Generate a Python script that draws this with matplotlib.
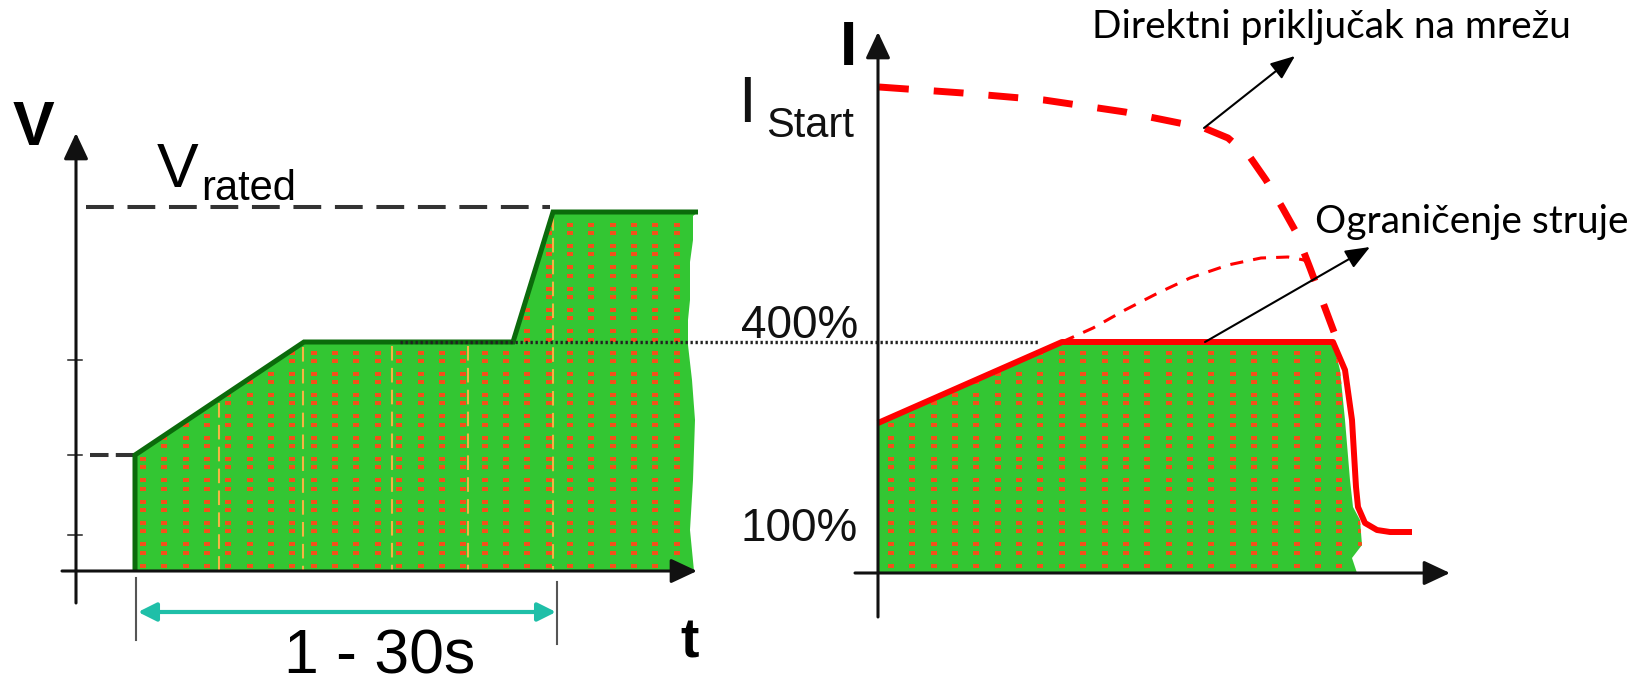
"""Soft starter diagram: voltage ramp (left) and current limit vs direct start (right)."""
import numpy as np
import matplotlib
matplotlib.use("Agg")
import matplotlib.pyplot as plt

plt.rcParams['font.family'] = ['Liberation Sans', 'DejaVu Sans']

# canvas is laid out in image pixels (x right, y down)
W, H = 1650, 687

# ---- left panel: V(t) ----
v_x = [135, 135, 304, 513, 553, 698]
v_y = [571, 455, 342, 342, 212, 212]
v_edge_x = [698, 693, 693, 690, 690, 688, 688, 692, 695, 693, 690, 694]
v_edge_y = [212, 216, 240, 262, 300, 320, 345, 380, 420, 480, 530, 571]
v_guides_x = [219, 303, 392, 468, 553]        # orange dashed verticals
v_rated_y, v_start_y = 207, 455
v_ticks_y = [360, 455, 535]
span_x = [136, 557]                          # "1 - 30s" interval
span_y = 612

# ---- right panel: I(t) ----
lim_x = [878, 1062, 1333, 1345, 1352, 1356, 1358, 1365, 1377, 1390, 1412]
lim_y = [423, 342, 342, 370, 420, 487, 507, 523, 530, 532, 532]
i_edge_x = [1333, 1340, 1345, 1350, 1353, 1360, 1362, 1352, 1357]
i_edge_y = [342, 370, 420, 480, 507, 520, 545, 558, 573]
dol_x = [879, 963, 1044, 1125, 1204, 1228, 1250, 1266, 1282, 1296, 1310, 1322, 1334]
dol_y = [87, 93, 100, 112, 128, 138, 157, 180, 207, 232, 268, 300, 332]
free_x = [1062, 1093, 1125, 1158, 1190, 1228, 1261, 1288, 1304, 1312]
free_y = [342, 328, 310, 293, 278, 265, 258, 257, 260, 267]
level400_y = 342
dotted_x = [400, 1038]

# axes (origin, tip)
ax_left_v = [(76, 603), (76, 133)]
ax_left_t = [(62, 571), (697, 571)]
ax_right_i = [(878, 617), (878, 32)]
ax_right_t = [(855, 573), (1450, 573)]

GREEN = "#33c633"
DKGREEN = "#0b6b0b"
DOTS = "#f4501a"
RED = "#ff0000"


def axis_arrow(ax, p0, p1):
    ax.annotate("", xy=p1, xytext=p0,
                arrowprops=dict(arrowstyle="-|>,head_length=1.6,head_width=0.75",
                                lw=2.2, color="#111111", shrinkA=0, shrinkB=0),
                zorder=6)


def dot_texture(ax, patch, x0, x1):
    xs = np.arange(x0, x1, 21.35)
    rows = np.arange(565.5, 150, -21.3)
    ys = np.concatenate([rows, rows + 8.3])
    gx, gy = np.meshgrid(xs, ys)
    rect = [(-2.5, -1.2), (2.5, -1.2), (2.5, 1.2), (-2.5, 1.2)]
    sc = ax.scatter(gx.ravel(), gy.ravel(), marker=rect, s=22, c=DOTS,
                    linewidths=0, zorder=3)
    sc.set_clip_path(patch)


fig = plt.figure(figsize=(W / 100, H / 100), dpi=100)
ax = fig.add_axes([0, 0, 1, 1])
ax.set_xlim(0, W)
ax.set_ylim(H, 0)
ax.axis("off")

# left fill + texture
lx = v_x + v_edge_x[1:] + [v_x[0]]
ly = v_y + v_edge_y[1:] + [v_y[0]]
lpatch = ax.fill(lx, ly, color=GREEN, lw=0, zorder=2)[0]
dot_texture(ax, lpatch, 143, 700)
for gx in v_guides_x:
    top = np.interp(gx, v_x[1:], v_y[1:])
    ax.plot([gx, gx], [top + 4, 571], color="#f5b342", lw=1.5,
            dashes=(7, 3.5), zorder=3)
ax.plot(v_x, v_y, color=DKGREEN, lw=3.6, solid_capstyle="butt",
        solid_joinstyle="miter", zorder=4)

# right fill + texture
rx = [lim_x[0]] + lim_x[:3] + i_edge_x[1:]
ry = [573] + lim_y[:3] + i_edge_y[1:]
rpatch = ax.fill(rx, ry, color=GREEN, lw=0, zorder=2)[0]
dot_texture(ax, rpatch, 891, 1400)

# dashed references on the left
ax.plot([86, 550], [v_rated_y] * 2, color="#333333", lw=2.9,
        dashes=(6.9, 3.4), zorder=3)
ax.plot([90, 134], [v_start_y] * 2, color="#333333", lw=2.9,
        dashes=(4.6, 1.8), zorder=3)
for ty in v_ticks_y:
    ax.plot([68, 82], [ty, ty], color="#222222", lw=1.1, zorder=6)

# dotted 400% line shared by both panels
ax.plot(dotted_x, [level400_y] * 2, color="#222222", lw=2.4,
        dashes=(0.7, 0.8), zorder=5)

# current curves
ax.plot(dol_x, dol_y, color=RED, lw=5, dashes=(4.3, 3.6), zorder=5)
ax.plot(free_x, free_y, color=RED, lw=2.2, dashes=(4.3, 3.3), zorder=5)
ax.plot(lim_x, lim_y, color=RED, lw=4.3, solid_capstyle="butt", zorder=5)

for p0, p1 in (ax_left_v, ax_left_t, ax_right_i, ax_right_t):
    axis_arrow(ax, p0, p1)

# time span marker
for sx, (y0, y1) in zip(span_x, [(578, 640), (582, 644)]):
    ax.plot([sx, sx], [y0, y1], color="#555555", lw=1.5, zorder=4)
ax.annotate("", xy=(span_x[1] - 1, span_y), xytext=(span_x[0] + 2, span_y),
            arrowprops=dict(arrowstyle="<|-|>,head_length=1.1,head_width=0.55",
                            lw=3, color="#1fbfa8", shrinkA=0, shrinkB=0))

# callout arrows
for (x0, y0), (x1, y1) in [((1204, 128), (1295, 56)), ((1205, 342), (1370, 247))]:
    ax.annotate("", xy=(x1, y1), xytext=(x0, y0),
                arrowprops=dict(arrowstyle="-|>,head_length=1.5,head_width=0.6",
                                lw=1.5, color="black", shrinkA=0, shrinkB=0),
                zorder=7)

# texts
ax.text(13, 145, "V", fontsize=45, fontweight="bold", va="baseline")
ax.text(849, 65, "I", fontsize=45, fontweight="bold", ha="center", va="baseline")
ax.text(690, 658, "t", fontsize=40, fontweight="bold", ha="center", va="baseline")
ax.text(157, 187, "V", fontsize=45, va="baseline")
ax.text(201, 200, "rated", fontsize=30, va="baseline")
ax.text(738, 122, "I", fontsize=46, va="baseline", color="#111111")
ax.text(766, 137, "Start", fontsize=30, va="baseline", color="#111111")
ax.text(858, 338, "400%", fontsize=33, ha="right", va="baseline", color="#111111")
ax.text(858, 541, "100%", fontsize=33, ha="right", va="baseline", color="#111111")
ax.text(380, 673, "1 - 30s", fontsize=45, ha="center", va="baseline")
ax.text(1092, 38, "Direktni priključak na mrežu", fontsize=28, family=["Lato", "DejaVu Sans"],
        va="baseline")
ax.text(1315, 233, "Ograničenje struje", fontsize=28, family=["Lato", "DejaVu Sans"],
        va="baseline")

fig.savefig("out.png", dpi=100)
